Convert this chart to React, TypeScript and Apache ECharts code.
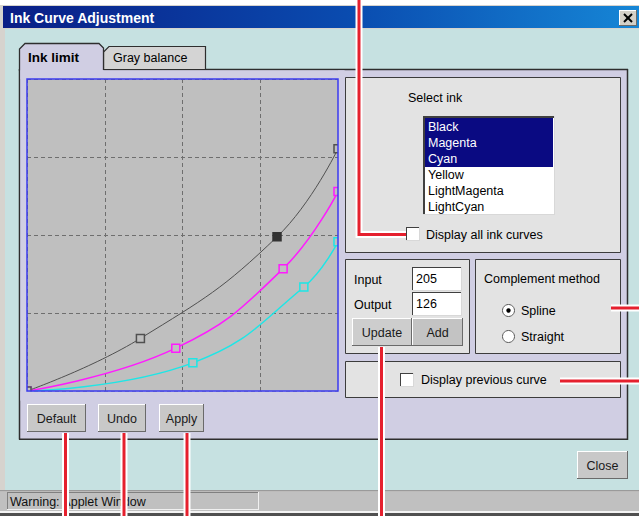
import React, { useEffect, useRef } from 'react';
import * as echarts from 'echarts';

// ---- data (input / output on a 0..255 scale) ----
const blackInput = [0, 93, 205, 255];
const blackOutput = [0, 43, 126, 198];
const magentaInput = [0, 122, 210, 255];
const magentaOutput = [0, 35, 100, 163];
const cyanInput = [0, 136, 227, 255];
const cyanOutput = [0, 23, 85, 122];
const selectedBlackIndex = 2;
const axisMax = 255;
const gridDivisions = 4;
const inkNames = ['Black', 'Magenta', 'Cyan', 'Yellow', 'LightMagenta', 'LightCyan'];
const selectedInkCount = 3;
const inputValue = '205';
const outputValue = '126';

const FONT = '"Liberation Sans", Arial, sans-serif';
const TEAL = '#C6E1E1';
const LAV = '#D0CEE3';
const BOXG = '#E3E3E3';
const PLOT = '#BFBFBF';

const rect = (x: number, y: number, w: number, h: number, fill: any, z = 0, stroke?: string, lw = 1) => ({
  type: 'rect', z, shape: { x, y, width: w, height: h },
  style: { fill, stroke: stroke || null, lineWidth: stroke ? lw : 0 },
});
const line = (x1: number, y1: number, x2: number, y2: number, stroke: string, lw = 1, z = 0) => ({
  type: 'line', z, shape: { x1, y1, x2, y2 }, style: { stroke, lineWidth: lw },
});
const poly = (points: number[][], stroke: string, lw: number, z = 0) => ({
  type: 'polyline', z, shape: { points }, style: { stroke, lineWidth: lw, fill: null, lineCap: 'butt', lineJoin: 'miter' },
});
const txt = (x: number, y: number, s: string, size = 12.5, o: any = {}) => ({
  type: 'text', x, y, z: o.z ?? 1,
  style: {
    text: s, fill: o.fill || '#000',
    font: `${o.weight || 'normal'} ${size}px ${FONT}`,
    align: o.align || 'left', verticalAlign: 'middle',
  },
});
const button = (x: number, y: number, w: number, h: number, label: string, fill = '#C8C8C8') => [
  rect(x, y, w, h, fill),
  line(x, y + 0.5, x + w, y + 0.5, '#FFFFFF'),
  line(x + 0.5, y, x + 0.5, y + h, '#FFFFFF'),
  line(x, y + h - 0.5, x + w, y + h - 0.5, '#6A6A6A'),
  line(x + w - 0.5, y, x + w - 0.5, y + h, '#6A6A6A'),
  txt(x + w / 2, y + h / 2 + 0.5, label, 12.5, { align: 'center', fill: '#1A1A1A' }),
];
const sunken = (x: number, y: number, w: number, h: number, fill = '#FFFFFF', thick = 1) => [
  rect(x, y, w, h, fill),
  line(x, y + thick / 2, x + w, y + thick / 2, '#404040', thick),
  line(x + thick / 2, y, x + thick / 2, y + h, '#404040', thick),
  line(x, y + h - 0.5, x + w, y + h - 0.5, '#D8D8D8'),
  line(x + w - 0.5, y, x + w - 0.5, y + h, '#D8D8D8'),
];
const groupBox = (x: number, y: number, w: number, h: number) =>
  rect(x + 0.5, y + 0.5, w, h, BOXG, 0, '#3C3C3C', 1);
const radio = (cx: number, cy: number, on: boolean) => {
  const r: any[] = [
    { type: 'circle', z: 0, shape: { cx, cy, r: 6 }, style: { fill: '#FFFFFF', stroke: '#5A5A5A', lineWidth: 1 } },
  ];
  if (on) r.push({ type: 'circle', z: 1, shape: { cx, cy, r: 2.2 }, style: { fill: '#000000' } });
  return r;
};
const annot = (points: number[][]) => [
  poly(points, '#FFFFFF', 7, 10),
  poly(points, '#E5202E', 3, 11),
];

function buildGraphics() {
  const g: any[] = [];
  // window frame and title bar
  g.push(rect(0, 5, 639, 511, '#D6D3CE'));
  g.push(rect(3, 6, 636, 22, {
    type: 'linear', x: 0, y: 0, x2: 1, y2: 0,
    colorStops: [{ offset: 0, color: '#0A1E86' }, { offset: 0.55, color: '#0A4CB0' }, { offset: 1, color: '#1686D6' }],
  }));
  g.push(txt(10, 17.5, 'Ink Curve Adjustment', 14, { weight: 'bold', fill: '#FFFFFF' }));
  g.push(...button(619, 10, 18, 16, '', '#D4D0C8'));
  g.push(line(624, 14, 632, 22, '#000', 2, 1), line(632, 14, 624, 22, '#000', 2, 1));
  // teal client area
  g.push(rect(5, 29, 634, 461, TEAL));
  // status bar
  g.push(rect(0, 490, 639, 1.5, '#9A9A9A'));
  g.push(rect(0, 491.5, 639, 19.5, '#C0C0C0'));
  g.push(line(7, 492.5, 259, 492.5, '#808080'), line(7.5, 492, 7.5, 510, '#808080'));
  g.push(line(7, 509.5, 259, 509.5, '#F0F0F0'), line(258.5, 492, 258.5, 510, '#F0F0F0'));
  g.push(txt(10, 502, 'Warning: Applet Window', 12.5, { fill: '#111' }));
  g.push(rect(0, 511, 639, 2, '#F4F4F4'));
  g.push(rect(0, 513, 639, 3, '#505050'));
  // tab panel
  g.push(rect(19, 69, 608, 370, LAV));
  g.push(line(19.5, 69, 19.5, 439.5, '#2E2E2E', 1.5));
  g.push(line(19, 439.25, 628, 439.25, '#2E2E2E', 1.5));
  g.push(line(627.5, 69, 627.5, 440, '#2E2E2E', 1.5));
  g.push(line(103, 69.5, 628, 69.5, '#2E2E2E', 1.5));
  // tabs
  g.push({ type: 'polygon', z: 0, shape: { points: [[103.5, 69.5], [103.5, 52], [109, 46.5], [205.5, 46.5], [205.5, 69.5]] }, style: { fill: '#D4D4D4', stroke: '#2E2E2E', lineWidth: 1.2 } });
  g.push({ type: 'polygon', z: 0, shape: { points: [[19.5, 71], [19.5, 49], [25, 43.5], [99, 43.5], [103.5, 48], [103.5, 71]] }, style: { fill: LAV } });
  g.push(poly([[19.5, 71], [19.5, 49], [25, 43.5], [99, 43.5], [103.5, 48], [103.5, 70]], '#2E2E2E', 1.3, 0));
  g.push(txt(28, 57, 'Ink limit', 13.5, { weight: 'bold' }));
  g.push(txt(113, 58, 'Gray balance', 12.5));
  // masks around the plot (clip half symbols on the plot edge)
  g.push(rect(20.5, 70.5, 324, 8.5, LAV, 5));
  g.push(rect(20.5, 391.5, 324, 9, LAV, 5));
  g.push(rect(20.5, 70.5, 6.5, 330, LAV, 5));
  g.push(rect(338, 70.5, 6.5, 330, LAV, 5));
  g.push(rect(27, 79, 311, 312, null, 6, '#3B3BF0', 1.5));
  // right group boxes
  g.push(groupBox(345, 77, 275, 175));
  g.push(groupBox(345, 259, 124, 94));
  g.push(groupBox(475, 259, 145, 94));
  g.push(groupBox(345, 361, 275, 36));
  // select ink
  g.push(txt(408, 98, 'Select ink', 12.5));
  g.push(...sunken(423, 116, 132, 99, '#FFFFFF', 2));
  g.push(rect(425, 118, 128, 16 * selectedInkCount + 1, '#0A0A82'));
  inkNames.forEach((n, i) => {
    g.push(txt(428, 126.5 + 16 * i, n, 12.5, { fill: i < selectedInkCount ? '#FFFFFF' : '#000000' }));
  });
  g.push(...sunken(406, 227, 14, 14));
  g.push(txt(426, 234.5, 'Display all ink curves', 12.5));
  // input / output
  g.push(txt(354, 280, 'Input', 12.5));
  g.push(txt(354, 304.5, 'Output', 12.5));
  g.push(...sunken(412, 267, 50, 24));
  g.push(...sunken(412, 292, 50, 24));
  g.push(txt(416, 279, inputValue, 12.5));
  g.push(txt(416, 304, outputValue, 12.5));
  g.push(...button(352, 318, 60, 28, 'Update', '#CDCDCD'));
  g.push(...button(412, 318, 51, 28, 'Add', '#C3C3C3'));
  // complement method
  g.push(txt(484, 279, 'Complement method', 12.5));
  g.push(...radio(508.5, 310.5, true));
  g.push(txt(521, 310.5, 'Spline', 12.5));
  g.push(...radio(508.5, 336.5, false));
  g.push(txt(521, 336.5, 'Straight', 12.5));
  // previous curve
  g.push(...sunken(400, 373, 14, 14));
  g.push(txt(421, 380, 'Display previous curve', 12.5));
  // bottom buttons
  g.push(...button(27, 404, 59, 28, 'Default'));
  g.push(...button(98, 404, 48, 28, 'Undo'));
  g.push(...button(159, 404, 45, 28, 'Apply'));
  g.push(...button(577, 451, 51, 28, 'Close'));
  // red annotation lines
  g.push(...annot([[359, 0], [359, 234.5], [406, 234.5]]));
  g.push(...annot([[65.5, 433], [65.5, 516]]));
  g.push(...annot([[124, 433], [124, 516]]));
  g.push(...annot([[187, 433], [187, 516]]));
  g.push(...annot([[381.5, 347], [381.5, 516]]));
  g.push(...annot([[611, 308], [639, 308]]));
  g.push(...annot([[560, 381], [639, 381]]));
  return g;
}

const curve = (xs: number[], ys: number[], color: string, width: number, selected = -1, selColor = '') => ({
  type: 'line', z: 4, smooth: 0.45, clip: false,
  symbol: 'rect', symbolSize: 8, showSymbol: true,
  data: xs.map((x, i) => i === selected
    ? { value: [x, ys[i]], itemStyle: { color: selColor, borderColor: selColor } }
    : [x, ys[i]]),
  lineStyle: { color, width },
  itemStyle: { color: PLOT, borderColor: color, borderWidth: 1.5 },
});

export default function App() {
  const ref = useRef<HTMLDivElement>(null);
  useEffect(() => {
    const chart = echarts.init(ref.current!, undefined, { renderer: 'svg' });
    const axis = {
      type: 'value', min: 0, max: axisMax, interval: axisMax / gridDivisions, z: 3,
      axisLine: { show: false }, axisTick: { show: false }, axisLabel: { show: false },
      splitLine: { show: true, lineStyle: { color: '#6E6E6E', type: [4, 3], width: 1 } },
    };
    chart.setOption({
      animation: false,
      backgroundColor: '#FFFFFF',
      grid: { left: 27, top: 79, width: 311, height: 312, show: true, backgroundColor: PLOT, borderWidth: 0, z: 1 },
      xAxis: axis,
      yAxis: axis,
      series: [
        curve(cyanInput, cyanOutput, '#1EE6E6', 1.5),
        curve(magentaInput, magentaOutput, '#FF1AFF', 1.5),
        curve(blackInput, blackOutput, '#505050', 1, selectedBlackIndex, '#333333'),
      ],
      graphic: buildGraphics(),
    });
    return () => chart.dispose();
  }, []);
  return <div ref={ref} style={{ position: 'fixed', left: 0, top: 0, width: 639, height: 516 }} />;
}
